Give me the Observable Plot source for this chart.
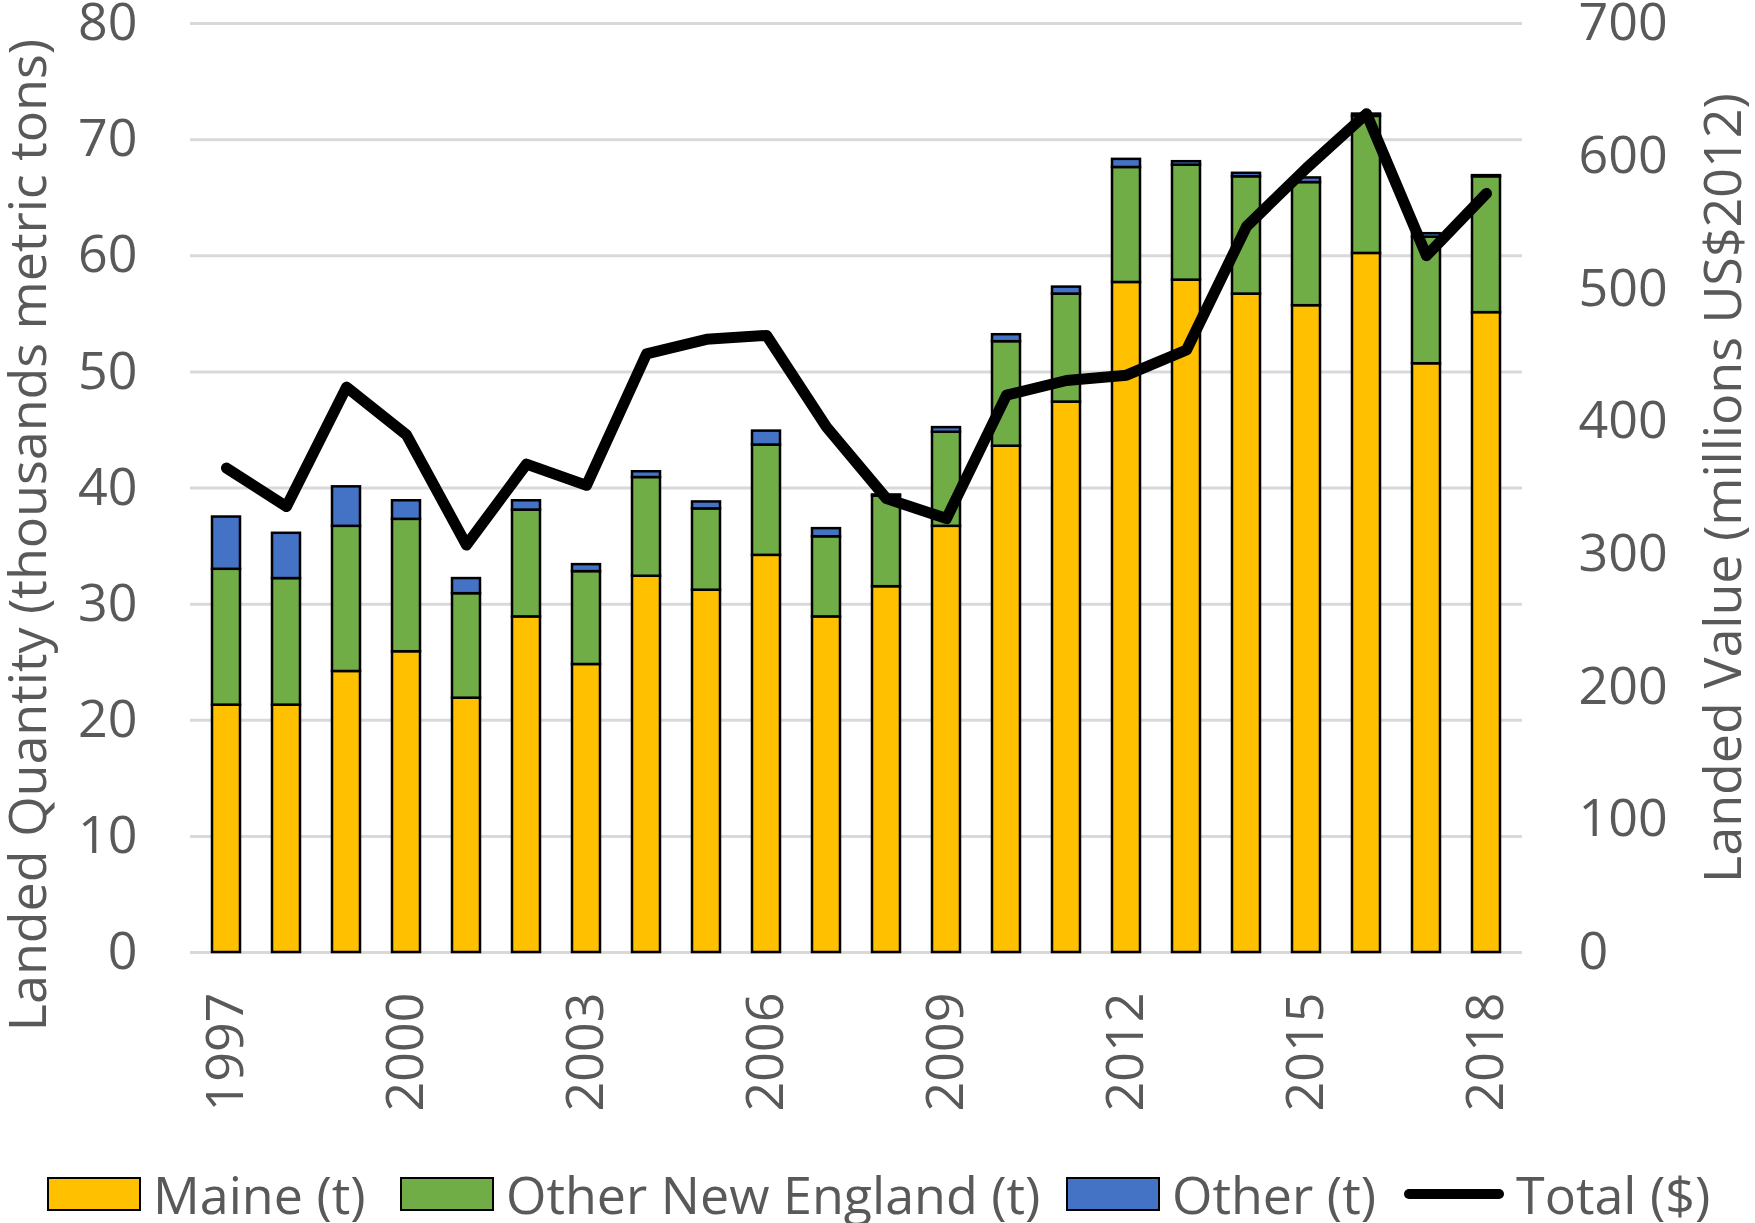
<!DOCTYPE html>
<html>
<head>
<meta charset="utf-8">
<script src="https://cdn.jsdelivr.net/npm/d3@7"></script>
<script src="https://cdn.jsdelivr.net/npm/@observablehq/plot@0.6"></script>
<style>
  body { margin: 0; background: #fff; font-family: "Open Sans", sans-serif; }
  #chart { position: relative; width: 1755px; height: 1223px; overflow: hidden; }
  .legend { position: absolute; top: 1177px; left: 0; width: 1755px; height: 34px; }
  .item { position: absolute; top: 0; height: 34px; display: flex; align-items: center; }
  .sw { width: 94px; height: 34px; box-sizing: border-box; border: 2.5px solid #000; }
  .ln { width: 100px; height: 10px; background: #000; border-radius: 5px; }
  .lbl { font-size: 52px; color: #595959; margin-left: 12px; line-height: 34px; white-space: nowrap; }
</style>
</head>
<body>
<div id="chart"></div>
<script>
const years = [1997,1998,1999,2000,2001,2002,2003,2004,2005,2006,2007,2008,2009,2010,2011,2012,2013,2014,2015,2016,2017,2018];
const maine = [21.3,21.3,24.2,25.9,21.9,28.9,24.8,32.4,31.2,34.2,28.9,31.5,36.7,43.6,47.4,57.7,57.9,56.7,55.7,60.2,50.7,55.1];
const otherNewEngland = [11.7,10.9,12.5,11.4,9.0,9.2,8.0,8.5,7.0,9.5,6.9,7.8,8.1,9.0,9.3,9.9,9.9,10.1,10.6,11.8,10.9,11.7];
const other = [4.5,3.9,3.4,1.6,1.3,0.8,0.6,0.5,0.6,1.2,0.7,0.1,0.4,0.6,0.6,0.7,0.3,0.3,0.4,0.2,0.3,0.1];
const totalValue = [365,336,426,390,307,368,352,451,462,465,396,342,327,420,431,435,454,547,591,632,525,572];

const seriesNames = ["Maine (t)", "Other New England (t)", "Other (t)"];
const seriesColors = ["#FFC000", "#70AD47", "#4472C4"];
const lineName = "Total ($)";
const xTicks = [1997,2000,2003,2006,2009,2012,2015,2018];
const leftTicks = [0,10,20,30,40,50,60,70,80];
const rightTicks = [0,100,200,300,400,500,600,700];
const leftTitle = "Landed Quantity (thousands metric tons)";
const rightTitle = "Landed Value (millions US$2012)";
const leftMax = 80, rightMax = 700;
const k = leftMax / rightMax;

const bars = [];
years.forEach((yr, i) => {
  bars.push({year: yr, series: seriesNames[0], value: maine[i]});
  bars.push({year: yr, series: seriesNames[1], value: otherNewEngland[i]});
  bars.push({year: yr, series: seriesNames[2], value: other[i]});
});
const line = years.map((yr, i) => ({year: yr, value: totalValue[i]}));

const textColor = "#595959";
const gridColor = "#D9D9D9";

const plot = Plot.plot({
  width: 1755,
  height: 1140,
  marginTop: 23,
  marginBottom: 188,
  marginLeft: 190,
  marginRight: 233,
  style: {fontFamily: "'Open Sans', sans-serif", fontSize: "52px", color: textColor, background: "#fff", overflow: "visible"},
  x: {type: "band", domain: years, paddingInner: 0.54, paddingOuter: 0.27},
  y: {domain: [0, leftMax]},
  color: {domain: seriesNames, range: seriesColors},
  marks: [
    Plot.gridY(leftTicks.filter(d => d > 0), {stroke: gridColor, strokeOpacity: 1, strokeWidth: 3}),
    Plot.ruleY([0], {stroke: gridColor, strokeWidth: 3}),
    Plot.barY(bars, Plot.stackY({x: "year", y: "value", fill: "series", order: seriesNames, stroke: "#000", strokeWidth: 2.5})),
    Plot.line(line, {x: "year", y: d => d.value * k, stroke: "#000", strokeWidth: 11, strokeLinejoin: "round", strokeLinecap: "round"}),
    Plot.axisX({ticks: xTicks, tickFormat: d => String(d), tickRotate: -90, tickSize: 0, tickPadding: 40, label: null, fill: textColor}),
    Plot.axisY({ticks: leftTicks, tickSize: 0, tickPadding: 53, fill: textColor, label: null}),
    Plot.text([leftTitle], {frameAnchor: "left", text: d => d, rotate: -90, lineAnchor: "top", textAnchor: "middle",
      dx: -181, dy: 47, fill: textColor, fontSize: 52}),
    Plot.axisY(rightTicks.map(d => d * k), {anchor: "right", tickSize: 0, tickPadding: 56, fill: textColor,
      tickFormat: d => String(Math.round(d / k)),
      label: rightTitle, labelAnchor: "center", labelArrow: "none", labelOffset: 218})
  ]
});

const chart = document.getElementById("chart");
chart.appendChild(plot);

const legend = document.createElement("div");
legend.className = "legend";
const items = [
  {name: seriesNames[0], color: seriesColors[0], left: 47},
  {name: seriesNames[1], color: seriesColors[1], left: 400},
  {name: seriesNames[2], color: seriesColors[2], left: 1066},
  {name: lineName, color: null, left: 1404}
];
for (const it of items) {
  const d = document.createElement("div");
  d.className = "item";
  d.style.left = it.left + "px";
  const s = document.createElement("div");
  if (it.color) { s.className = "sw"; s.style.background = it.color; }
  else { s.className = "ln"; }
  const t = document.createElement("span");
  t.className = "lbl";
  t.textContent = it.name;
  d.appendChild(s); d.appendChild(t);
  legend.appendChild(d);
}
chart.appendChild(legend);
</script>
</body>
</html>
